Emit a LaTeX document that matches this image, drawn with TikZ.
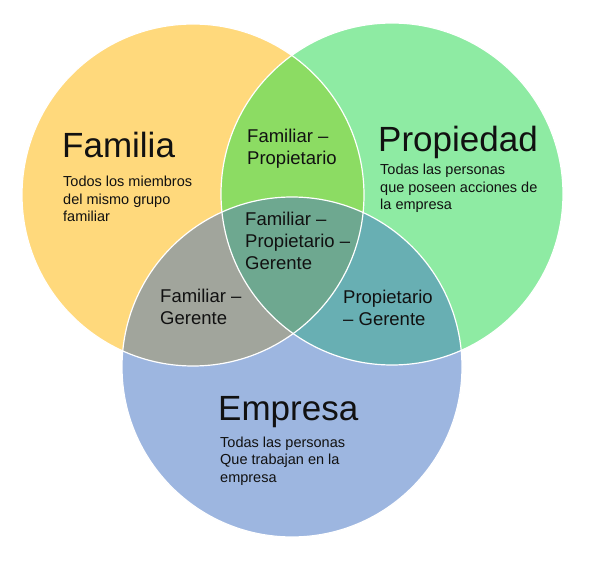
\documentclass[tikz,border=0pt]{standalone}
\usepackage{fontspec}
\setmainfont{Liberation Sans}
\definecolor{cyel}{HTML}{FFD97C}
\definecolor{cgrn}{HTML}{8EEBA3}
\definecolor{cblu}{HTML}{9DB6E0}
\definecolor{cyg}{HTML}{8CDC63}
\definecolor{cyb}{HTML}{A1A59C}
\definecolor{cgb}{HTML}{68AFB3}
\definecolor{call}{HTML}{6EA890}
\definecolor{ctxt}{HTML}{111111}
\begin{document}
\begin{tikzpicture}[x=1pt,y=-1pt,
  title/.style={anchor=base west, inner sep=0pt, text=ctxt, font=\fontsize{35}{40}\selectfont},
  desc/.style={anchor=base west, inner sep=0pt, align=left, text=ctxt, font=\fontsize{14.5}{17.5}\selectfont},
  lab/.style={anchor=base west, inner sep=0pt, align=left, text=ctxt, font=\fontsize{18.5}{22}\selectfont},
  rim/.style={draw=white, line width=1.2pt}]
\useasboundingbox (0,0) rectangle (592,564);
\fill[white] (0,0) rectangle (592,564);
\coordinate (A) at (193,195);
\coordinate (B) at (392,194);
\coordinate (C) at (292,367);
\fill[cyel] (A) circle[radius=171pt];
\fill[cgrn] (B) circle[radius=171pt];
\fill[cblu] (C) circle[radius=170pt];
\begin{scope}
  \clip (A) circle[radius=171pt];
  \fill[cyg] (B) circle[radius=171pt];
  \fill[cyb] (C) circle[radius=170pt];
\end{scope}
\begin{scope}
  \clip (B) circle[radius=171pt];
  \fill[cgb] (C) circle[radius=170pt];
\end{scope}
\begin{scope}
  \clip (A) circle[radius=171pt];
  \clip (B) circle[radius=171pt];
  \fill[call] (C) circle[radius=170pt];
\end{scope}
\draw[rim] (A) circle[radius=171pt];
\draw[rim] (B) circle[radius=171pt];
\draw[rim] (C) circle[radius=170pt];

\node[title] (tfam) at (62,158) {Familia};
\node[desc] (dfam) at (63,222) {Todos los miembros\\del mismo grupo\\familiar};
\node[title] (tpro) at (378,152) {Propiedad};
\node[desc] (dpro) at (380,210) {Todas las personas\\que poseen acciones de\\la empresa};
\node[title] (temp) at (218,420) {Empresa};
\node[desc] (demp) at (220,482) {Todas las personas\\Que trabajan en la\\empresa};
\node[lab] (lfp) at (247,165) {Familiar --\\Propietario};
\node[lab] (lfpg) at (245,270) {Familiar --\\Propietario --\\Gerente};
\node[lab] (lfg) at (160,324) {Familiar --\\Gerente};
\node[lab] (lpg) at (343,325) {Propietario\\-- Gerente};
\end{tikzpicture}
\end{document}
